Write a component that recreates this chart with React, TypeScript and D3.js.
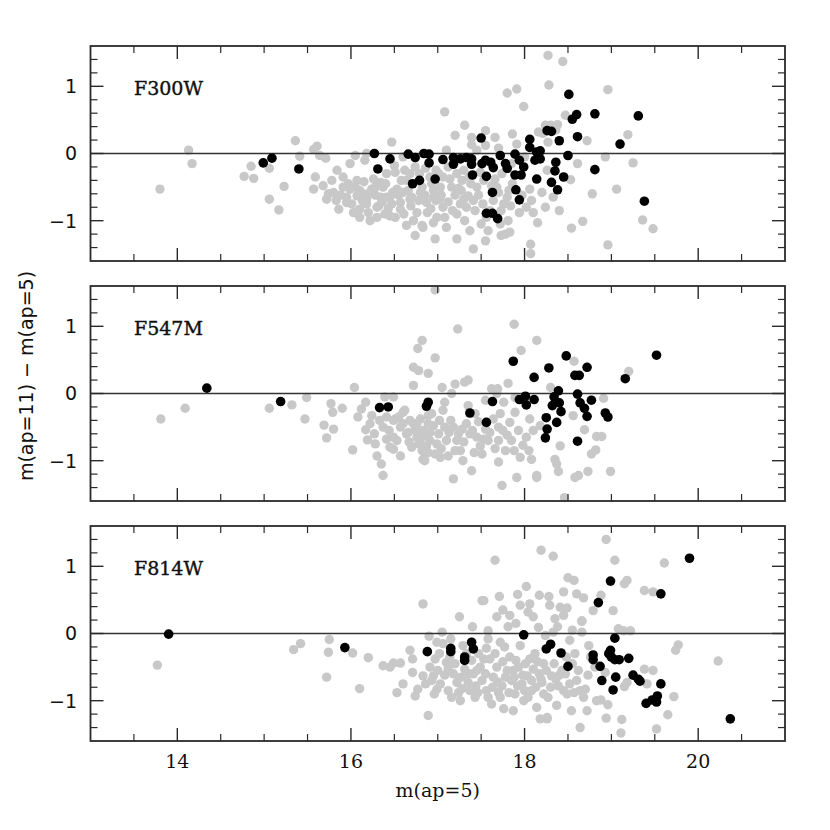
import React from 'react';
import * as d3 from 'd3';

type Pt = [number, number];

const xDomain: [number, number] = [13, 21];
const yDomain: [number, number] = [-1.6, 1.6];
const xMajorTicks = [14, 16, 18, 20];
const yMajorTicks = [-1, 0, 1];
const yTickLabels = ['\u22121', '0', '1'];
const panelNames = ['F300W', 'F547M', 'F814W'];
const xTitle = 'm(ap=5)';
const yTitle = 'm(ap=11)  \u2212  m(ap=5)';

const f300wGray: Pt[] = [
  [13.80,-0.53],[14.13,0.05],[14.17,-0.15],[14.77,-0.34],[14.85,-0.19],[14.88,-0.37],[15.06,-0.68],[15.06,-0.22],
  [15.17,-0.84],[15.23,-0.49],[15.36,0.19],[15.41,-0.04],[15.57,0.06],[15.61,0.11],[15.64,-0.03],[15.71,-0.07],
  [15.59,-0.35],[15.57,-0.53],[15.68,-0.48],[15.72,-0.68],[15.80,-0.58],[15.84,-0.25],[15.91,-0.35],[15.99,-0.15],
  [16.05,-0.03],[15.86,-0.83],[15.95,-0.73],[15.99,-0.53],[16.07,-0.63],[16.10,-0.83],[16.10,-0.95],[16.22,-1.0],
  [16.18,-0.68],[16.24,-0.53],[16.18,0.0],[16.16,-0.10],[16.34,-0.43],[16.32,-0.78],[16.41,-0.65],[16.47,0.17],
  [16.45,-0.93],[16.53,-0.53],[16.51,-0.28],[16.57,-0.83],[16.64,-1.07],[16.68,-0.68],[16.74,-1.22],[16.76,-0.88],
  [16.82,-1.07],[16.87,-0.73],[16.95,-1.03],[16.97,-1.27],[16.62,-0.25],[16.80,-0.58],[16.95,-0.55],
  [15.74,-0.60],[15.91,-0.50],[15.95,-0.65],[16.01,-0.75],[16.07,-0.40],[16.10,-0.55],[16.18,-0.75],[16.22,-0.58],
  [16.26,-0.38],[16.30,-0.80],[16.34,-0.65],[16.37,-0.50],[16.39,-0.90],[16.41,-0.30],[16.45,-0.65],[16.51,-0.95],
  [16.57,-0.73],[16.60,-0.05],[16.64,-0.40],[16.70,-0.65],[16.74,-0.20],[16.82,-0.50],[16.83,-1.10],[16.91,-0.35],
  [16.95,-0.65],[16.99,-0.95],[17.03,-0.50],[17.06,-0.80],[17.10,-1.10],[17.12,-0.20],[17.16,-0.50],[17.20,0.27],
  [17.22,-1.27],[17.26,-0.75],[17.28,-0.40],[17.31,0.42],[17.31,-1.0],[17.35,-0.63],[17.37,-1.15],[17.39,0.24],
  [17.41,-1.42],[17.43,-0.85],[17.45,-0.50],[17.49,-0.28],[17.55,0.34],[17.55,-1.30],[17.56,-0.95],[17.58,-1.15],
  [17.64,-0.70],[17.66,0.24],[17.68,-0.50],[17.72,-1.05],[17.76,-0.75],[17.78,-1.20],[17.80,-0.65],
  [18.27,1.46],[18.44,1.37],[17.80,0.90],[17.91,0.96],[18.28,1.02],[18.96,0.95],[17.99,0.70],[17.08,0.62],
  [17.86,0.29],[17.39,0.13],[17.55,0.12],[17.91,0.14],[18.16,0.32],[18.24,0.42],[18.38,0.43],[18.47,0.57],
  [18.27,0.17],[18.72,0.19],[19.19,0.28],[19.25,-0.14],[18.93,-0.05],[18.61,-0.15],[18.53,-0.39],[18.26,-0.25],
  [18.06,-0.53],[18.24,-0.80],[18.15,-1.03],[18.08,-0.70],[17.94,-0.88],[17.81,-1.0],[17.73,-1.22],[17.83,-1.17],
  [18.07,-1.35],[18.07,-1.49],[18.78,-0.60],[19.06,-0.53],[18.67,-1.01],[18.54,-1.11],[18.96,-1.36],[19.36,-0.99],
  [19.48,-1.12],[18.30,0.42],[18.21,0.30],[18.36,0.35],
  [15.78,-0.40],[15.83,-0.70],[15.88,-0.62],[15.97,-0.45],[16.03,-0.88],[16.05,-0.50],[16.13,-0.70],[16.15,-0.42],
  [16.20,-0.88],[16.28,-0.62],[16.30,-0.95],[16.36,-0.72],[16.40,-0.45],[16.43,-0.82],[16.48,-0.58],[16.55,-0.62],
  [16.58,-0.40],[16.61,-0.90],[16.66,-0.55],[16.69,-0.78],[16.72,-1.00],[16.78,-0.70],[16.79,-0.30],[16.85,-0.62],
  [16.88,-0.88],[16.93,-0.45],[16.98,-0.70],[17.01,-0.30],[17.04,-0.62],[17.08,-0.95],[17.12,-0.72],[17.14,-0.38],
  [17.20,-0.62],[17.22,-0.90],[17.27,-0.55],[17.30,-0.25],[17.33,-0.80],[17.38,-0.45],[17.41,-0.70],[17.47,-0.62],
  [17.50,-1.05],[17.53,-0.40],[17.60,-0.85],[17.62,-0.48],[17.70,-0.58],[17.73,-0.85],[17.84,-0.78],[17.86,-0.45],
  [17.97,-0.62],[18.02,-0.80],[18.10,-0.88],[18.20,-0.58],[18.33,-0.65],[18.40,-0.85],
  [17.10,0.05],[17.45,0.05],[17.70,0.08],[17.85,-0.15],[18.00,-0.05],
  [16.50,-0.18],[16.68,-0.30],[16.86,-0.22],[16.98,-0.25],[17.06,-0.35],[17.22,-0.30],[17.24,-0.52],[17.36,-0.35],
  [17.52,-0.75],[17.66,-0.38],[17.74,-0.30],[17.82,-0.55],[16.92,-0.82],[17.02,-0.68],[17.17,-0.85],[17.30,-0.68],
  [16.47,-0.75],[16.60,-0.58],[16.28,-0.50],[16.14,-0.60]
];

const f300wBlack: Pt[] = [
  [14.99,-0.14],[15.09,-0.07],[15.40,-0.23],[16.27,0.0],[16.45,-0.08],[16.31,-0.23],[16.66,-0.01],[16.74,-0.06],
  [16.84,0.0],[16.90,-0.01],[16.90,-0.14],[16.71,-0.45],[16.79,-0.40],[16.97,-0.38],
  [18.51,0.88],[18.55,0.51],[18.60,0.58],[18.81,0.59],[19.31,0.56],[19.10,0.14],[19.38,-0.71],[17.50,0.23],
  [18.06,0.21],[18.06,0.09],[18.26,0.34],[18.31,0.33],[18.40,0.19],[18.61,0.25],[18.50,-0.03],[18.81,-0.24],
  [17.06,-0.09],[17.18,-0.06],[17.18,-0.16],[17.26,-0.08],[17.33,-0.06],[17.39,-0.08],[17.39,-0.16],[17.51,-0.15],
  [17.55,-0.10],[17.61,-0.13],[17.64,-0.21],[17.72,-0.03],[17.78,-0.15],[17.80,-0.22],[17.89,-0.01],[17.94,-0.10],
  [17.99,-0.20],[17.89,-0.32],[17.96,-0.32],[17.40,-0.32],[17.56,-0.34],[18.14,0.02],[18.18,0.04],[18.12,-0.10],
  [18.18,-0.08],[18.14,-0.38],[18.31,-0.43],[18.35,-0.26],[18.36,-0.13],[18.45,-0.35],[18.38,-0.54],[17.63,-0.58],
  [17.90,-0.54],[17.94,-0.69],[17.56,-0.89],[17.63,-0.89],[17.69,-0.97]
];

const f547mGray: Pt[] = [
  [13.81,-0.38],[14.09,-0.22],[15.06,-0.22],[15.32,-0.17],[15.49,-0.06],[15.47,-0.38],[15.69,-0.47],[15.72,-0.66],
  [15.77,-0.15],[15.79,-0.28],[15.80,-0.53],[15.90,-0.22],[16.02,-0.84],[16.04,0.09],[16.08,-0.35],[16.12,-0.23],
  [16.17,-0.13],[16.17,-0.54],[16.19,-0.69],[16.24,-0.33],[16.28,-0.75],[16.30,-0.93],[16.35,-1.05],[16.37,-1.22],
  [16.37,-0.50],[16.39,-0.05],[16.41,-0.35],[16.41,-0.68],[16.49,-0.05],[16.51,-0.38],[16.49,-0.65],[16.49,-0.83],
  [16.57,-0.93],[16.57,-0.50],[16.62,-0.25],[16.66,-0.58],[16.70,-0.80],[16.72,0.12],[16.72,0.39],[16.77,0.67],
  [16.82,0.79],[16.78,0.34],[16.89,0.30],[16.76,-0.45],[16.80,-0.68],[16.83,-0.98],[16.89,-0.88],[16.91,-0.58],
  [16.97,0.53],[16.97,1.54],[16.89,-0.33],
  [16.45,-0.80],[16.49,-0.40],[16.60,-0.28],[16.64,-0.60],[16.72,-0.45],[16.76,-0.65],[16.80,-0.38],[16.82,-0.85],
  [16.83,-0.55],[16.85,-1.0],[16.89,-0.45],[16.91,-0.70],[16.93,-0.30],[16.97,-0.90],[17.01,-0.60],[17.03,-0.95],
  [17.05,0.09],[17.06,-0.25],[17.08,-0.13],[17.08,-0.50],[17.10,-0.70],[17.12,-0.93],[17.16,0.0],[17.18,-0.50],
  [17.20,0.14],[17.22,-0.70],[17.18,-1.27],[17.26,-0.85],[17.28,-0.53],[17.29,-1.0],[17.31,0.17],[17.35,0.20],
  [17.35,-0.18],[17.37,-0.60],[17.39,-1.15],[17.43,-0.30],[17.45,-0.65],[17.49,-0.78],[17.51,-0.90],[17.55,-0.10],
  [17.55,-0.53],[17.58,-0.70],[17.62,0.07],[17.64,-0.38],[17.68,0.0],[17.70,-0.50],[17.70,-0.70],[17.70,-1.02],
  [17.74,-1.37],[17.72,-0.30],[17.76,-0.13],[17.78,-0.85],[17.81,0.15],[17.83,-0.43],[17.85,-0.70],[17.89,-0.28],
  [17.91,-1.25],[17.93,-0.55],[17.95,-0.95],[17.98,-0.77],[18.06,-0.38],[18.08,-0.98],[18.10,-0.55],[18.14,-1.22],
  [18.18,-0.48],[18.30,0.09],
  [17.23,0.96],[17.88,1.03],[17.96,0.64],[18.14,0.79],[17.69,0.07],[17.89,-0.06],
  [18.57,0.48],[18.91,-0.07],[19.20,0.33],[18.56,-0.33],[18.69,-0.54],[18.83,-0.64],[18.89,-0.64],[18.41,-0.78],
  [18.77,-0.90],[18.82,-0.84],[18.35,-0.98],[18.37,-1.05],[18.14,-1.25],[18.39,-1.16],[18.58,-1.25],[18.62,-1.22],
  [18.73,-1.16],[18.99,-1.16],[18.46,-1.55],
  [16.22,-0.45],[16.27,-0.60],[16.33,-0.40],[16.44,-0.55],[16.53,-0.70],[16.55,-0.35],[16.60,-0.45],[16.67,-0.72],
  [16.68,-0.40],[16.74,-0.55],[16.78,-0.75],[16.86,-0.62],[16.87,-0.78],[16.95,-0.48],[16.99,-0.75],[17.02,-0.40],
  [17.04,-0.82],[17.13,-0.58],[17.15,-0.40],[17.20,-0.85],[17.24,-0.60],[17.30,-0.72],[17.33,-0.45],[17.40,-0.55],
  [17.42,-0.88],[17.47,-0.42],[17.53,-0.68],[17.60,-0.58],[17.66,-0.82],[17.75,-0.55],[17.80,-0.62],[17.88,-0.85],
  [18.02,-0.65],[18.05,-0.85]
];

const f547mBlack: Pt[] = [
  [14.34,0.08],[15.19,-0.12],[16.33,-0.21],[16.43,-0.20],[16.87,-0.19],[16.89,-0.13],[17.37,-0.29],[17.56,-0.43],
  [17.63,-0.12],[17.87,0.48],[17.94,-0.09],[18.01,-0.04],[18.02,-0.17],[18.11,0.24],[18.11,-0.09],[18.25,-0.36],
  [18.26,-0.53],[18.24,-0.66],[18.28,0.38],[18.32,-0.18],[18.34,-0.05],[18.37,-0.43],[18.39,0.04],[18.40,-0.14],
  [18.42,-0.27],[18.48,0.56],[18.58,0.27],[18.63,0.27],[18.61,-0.01],[18.64,-0.14],[18.69,-0.22],[18.72,-0.34],
  [18.61,-0.71],[18.72,0.39],[18.77,-0.10],[18.93,-0.29],[18.96,-0.35],[19.16,0.22],[19.52,0.57]
];

const f814wGray: Pt[] = [
  [13.77,-0.47],[15.34,-0.24],[15.42,-0.15],[15.72,-0.65],[15.74,-0.28],[15.75,-0.09],[16.02,-0.29],[16.10,-0.82],
  [16.20,-0.36],[16.37,-0.48],[16.45,-0.50],[16.49,-0.44],[16.57,-0.44],[16.53,-0.88],[16.60,-0.75],[16.68,-0.25],
  [16.71,-0.38],[16.71,-0.58],[16.74,-0.93],[16.77,-0.83],[16.83,-0.63],[16.83,0.44],[16.89,-1.22],[16.90,-0.04],
  [16.91,-0.50],[16.95,-0.63],[16.97,-0.38],[16.99,-0.13],[16.99,-0.83],
  [17.03,-0.75],[17.05,0.02],[17.06,-0.15],[17.10,-0.43],[17.12,-0.85],[17.16,-0.95],[17.18,-0.60],[17.22,-0.73],
  [17.26,-1.0],[17.29,-0.18],[17.31,-0.53],[17.35,-0.73],[17.37,-0.85],[17.39,-0.40],[17.41,-0.60],[17.43,-0.95],
  [17.47,-0.30],[17.49,-0.50],[17.51,-0.70],[17.51,0.49],[17.56,-0.85],[17.58,0.04],[17.58,-0.08],[17.60,-0.38],
  [17.62,-1.05],[17.64,-0.65],[17.68,-0.50],[17.72,-0.13],[17.72,-0.95],[17.74,-0.78],[17.76,-1.12],[17.80,-0.55],
  [17.81,0.10],[17.83,0.27],[17.83,-0.35],[17.85,-0.70],[17.87,-1.15],[17.89,-0.90],[17.93,-0.50],[17.95,0.42],
  [17.95,-0.18],[17.97,-0.75],[17.99,-1.0],[18.03,-0.63],[18.04,0.32],[18.06,0.44],[18.06,-0.38],[18.08,-0.85],
  [18.10,-0.53],[18.14,-1.10],[18.16,0.09],[18.18,-1.27],[18.20,-0.73],[18.22,-0.45],[18.24,-0.03],[18.26,-1.27],
  [18.27,-0.95],[18.29,0.42],[18.31,-0.63],[18.33,0.02],[18.35,0.22],[18.37,-1.07],[18.39,-0.78],[18.41,0.39],
  [18.45,0.27],[18.47,-0.60],[18.49,-0.90],[18.52,-0.10],[18.54,-1.15],[18.58,-0.30],[18.60,-0.70],[18.64,-1.40],
  [18.66,0.19],[18.66,0.02],[18.68,-0.95],[18.70,-0.83],[18.72,-1.15],[18.74,-0.18],[18.79,0.34],[18.81,-0.50],
  [18.83,-1.0],
  [18.94,1.40],[18.19,1.24],[18.33,1.15],[17.66,1.09],[19.04,1.09],[19.61,1.05],[18.50,0.83],[18.57,0.79],
  [19.15,0.74],[19.18,0.79],[18.02,0.70],[17.53,0.49],[17.71,0.55],[17.92,0.58],[18.17,0.57],[18.45,0.62],
  [18.60,0.59],[18.68,0.53],[18.88,0.57],[19.38,0.64],[19.48,0.62],[19.02,0.34],[18.49,0.38],[18.66,0.18],
  [19.08,0.07],[19.14,0.04],[19.22,0.04],[19.77,-0.17],[19.74,-0.25],[20.23,-0.41],[18.93,-0.58],[19.38,-0.53],
  [19.48,-0.55],[19.18,-0.73],[19.15,-0.79],[19.41,-0.75],[19.72,-0.94],[19.65,-1.21],[19.52,-1.42],[19.12,-1.28],
  [19.11,-1.48],[18.94,-1.26],[18.88,-0.99],[18.96,-1.06],[18.26,-1.25],
  [16.86,-0.75],[16.93,-0.70],[17.00,-0.55],[17.02,-0.30],[17.08,-0.62],[17.14,-0.35],[17.20,-0.45],[17.24,-0.88],
  [17.27,-0.65],[17.33,-0.30],[17.36,-0.60],[17.44,-0.78],[17.45,-0.55],[17.53,-0.38],[17.55,-0.60],[17.58,-0.95],
  [17.63,-0.80],[17.66,-0.30],[17.69,-0.72],[17.75,-0.42],[17.78,-0.65],[17.82,-0.88],[17.87,-0.55],[17.90,-0.40],
  [17.92,-0.78],[17.98,-0.62],[18.01,-0.45],[18.04,-0.95],[18.08,-0.70],[18.12,-0.30],[18.13,-0.80],[18.17,-0.60],
  [18.22,-0.90],[18.25,-0.55],[18.30,-0.80],[18.34,-0.45],[18.36,-0.68],[18.43,-0.55],[18.45,-0.85],[18.52,-0.75],
  [18.55,-0.45],[18.62,-0.55],[18.64,-0.85],[18.73,-0.62],[18.76,-0.35],[17.15,-0.08],[17.40,0.10],[17.68,0.25],
  [17.90,0.15],[18.10,0.25],[18.28,0.55],[18.38,0.10],[18.55,0.05],[17.25,0.25],[17.75,0.35],
  [17.46,-0.88],[17.56,-0.22],[17.70,-0.88],[17.77,-0.20],[17.88,-0.65],[18.00,-0.85],[18.15,-0.42],[18.19,-0.68],
  [18.40,-0.62],[18.48,-0.35],[18.57,-0.88],[17.28,-0.82],[17.12,-0.52],[16.96,-0.90]
];

const f814wBlack: Pt[] = [
  [13.90,-0.01],[15.93,-0.21],[16.88,-0.27],[19.90,1.12],[18.99,0.78],[19.57,0.59],[18.85,0.46],[17.99,-0.02],
  [19.04,-0.07],[17.15,-0.22],[17.15,-0.27],[17.31,-0.35],[17.31,-0.40],[17.39,-0.13],[17.41,-0.23],[18.25,-0.23],
  [18.30,-0.16],[18.42,-0.29],[18.50,-0.49],[18.79,-0.32],[18.79,-0.39],[18.87,-0.49],[18.89,-0.70],[18.97,-0.30],
  [18.99,-0.25],[19.00,-0.35],[19.04,-0.39],[19.09,-0.39],[19.05,-0.65],[19.02,-0.84],[19.20,-0.37],[19.25,-0.62],
  [19.31,-0.68],[19.33,-0.71],[19.57,-0.75],[19.53,-0.93],[19.52,-1.02],[19.47,-0.99],[19.40,-1.04],[20.37,-1.27]
];

const panelGray = [f300wGray, f547mGray, f814wGray];
const panelBlack = [f300wBlack, f547mBlack, f814wBlack];

const W = 830;
const H = 830;
const LEFT = 90.5;
const RIGHT = 785;
const PANEL_TOPS = [46, 286, 526];
const PANEL_H = 215;
const FRAME = '#2a2a2a';
const GRAY = '#c8c8c8';

export default function App() {
  const x = d3.scaleLinear().domain(xDomain).range([LEFT, RIGHT]);
  const xMinor = d3.range(13.5, 21, 0.5).filter((v) => !xMajorTicks.some((m) => Math.abs(m - v) < 1e-6));
  const yMinorAll = d3.range(-14, 15, 2).map((v) => v / 10);
  const yMinor = yMinorAll.filter((v) => !yMajorTicks.some((m) => Math.abs(m - v) < 1e-6));

  return (
    <svg width={W} height={H} style={{ position: 'absolute', left: 0, top: 0, background: '#fff' }}>
      <rect x={0} y={0} width={W} height={H} fill="#fff" />
      {PANEL_TOPS.map((top, pi) => {
        const y = d3.scaleLinear().domain(yDomain).range([top + PANEL_H, top]);
        const bottom = top + PANEL_H;
        return (
          <g key={pi}>
            {panelGray[pi].map((d, i) => (
              <circle key={'g' + i} cx={x(d[0])} cy={y(d[1])} r={4.7} fill={GRAY} />
            ))}
            <line x1={LEFT} x2={RIGHT} y1={y(0)} y2={y(0)} stroke="#333" strokeWidth={1.6} />
            {panelBlack[pi].map((d, i) => (
              <circle key={'b' + i} cx={x(d[0])} cy={y(d[1])} r={4.8} fill="#000" />
            ))}
            {xMajorTicks.map((t) => (
              <g key={'xM' + t} stroke={FRAME} strokeWidth={1.4}>
                <line x1={x(t)} x2={x(t)} y1={top} y2={top + 13} />
                <line x1={x(t)} x2={x(t)} y1={bottom} y2={bottom - 13} />
              </g>
            ))}
            {xMinor.map((t) => (
              <g key={'xm' + t} stroke={FRAME} strokeWidth={1.2}>
                <line x1={x(t)} x2={x(t)} y1={top} y2={top + 7} />
                <line x1={x(t)} x2={x(t)} y1={bottom} y2={bottom - 7} />
              </g>
            ))}
            {yMajorTicks.map((t) => (
              <g key={'yM' + t} stroke={FRAME} strokeWidth={1.4}>
                <line x1={LEFT} x2={LEFT + 13} y1={y(t)} y2={y(t)} />
                <line x1={RIGHT} x2={RIGHT - 13} y1={y(t)} y2={y(t)} />
              </g>
            ))}
            {yMinor.map((t) => (
              <g key={'ym' + t} stroke={FRAME} strokeWidth={1.2}>
                <line x1={LEFT} x2={LEFT + 7} y1={y(t)} y2={y(t)} />
                <line x1={RIGHT} x2={RIGHT - 7} y1={y(t)} y2={y(t)} />
              </g>
            ))}
            <rect x={LEFT} y={top} width={RIGHT - LEFT} height={PANEL_H} fill="none" stroke={FRAME} strokeWidth={1.8} />
            {yMajorTicks.map((t, i) => (
              <text key={'yl' + t} x={77} y={y(t)} dy="0.36em" textAnchor="end"
                fontFamily="DejaVu Sans" fontSize={19} fill="#111">{yTickLabels[i]}</text>
            ))}
            <text x={134} y={top + 49} fontFamily="DejaVu Serif" fontSize={19} fill="#111"
              stroke="#111" strokeWidth={0.4}>{panelNames[pi]}</text>
            {pi === PANEL_TOPS.length - 1 && xMajorTicks.map((t) => (
              <text key={'xl' + t} x={x(t)} y={bottom + 27} textAnchor="middle"
                fontFamily="DejaVu Serif" fontSize={19} fill="#111">{t}</text>
            ))}
          </g>
        );
      })}
      <text x={(LEFT + RIGHT) / 2} y={797} textAnchor="middle" fontFamily="DejaVu Serif" fontSize={19} fill="#111">{xTitle}</text>
      <text transform={`translate(33,376) rotate(-90)`} textAnchor="middle" fontFamily="DejaVu Sans" fontSize={19} fill="#111">{yTitle}</text>
    </svg>
  );
}
